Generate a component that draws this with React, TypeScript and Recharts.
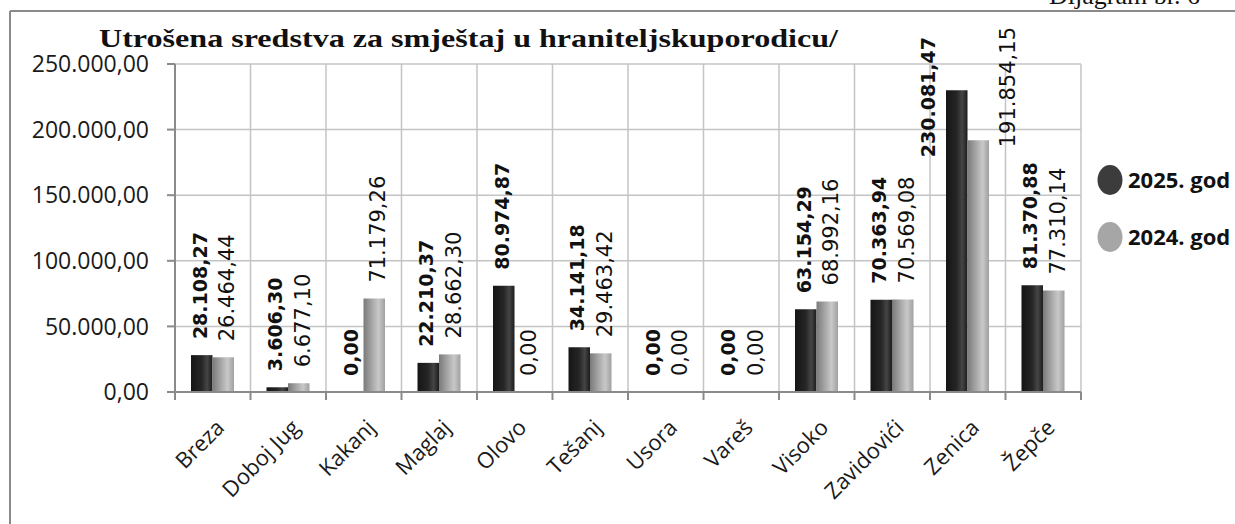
import React from 'react';
import { BarChart, Bar, XAxis, YAxis, CartesianGrid, LabelList } from 'recharts';

const municipalities = [
  'Breza', 'Doboj Jug', 'Kakanj', 'Maglaj', 'Olovo', 'Tešanj',
  'Usora', 'Vareš', 'Visoko', 'Zavidovići', 'Zenica', 'Žepče',
];
const spent2025 = [28108.27, 3606.3, 0, 22210.37, 80974.87, 34141.18, 0, 0, 63154.29, 70363.94, 230081.47, 81370.88];
const spent2024 = [26464.44, 6677.1, 71179.26, 28662.3, 0, 29463.42, 0, 0, 68992.16, 70569.08, 191854.15, 77310.14];
const yTicks = [0, 50000, 100000, 150000, 200000, 250000];
const seriesNames = ['2025. god', '2024. god'];
const title = 'Utrošena sredstva za smještaj u hraniteljskuporodicu/';

const data = municipalities.map((name, i) => ({
  name,
  y2025: spent2025[i],
  y2024: spent2024[i],
}));

// 28108.27 -> "28.108,27"
const fmt = (v: number) => {
  const [int, dec] = Math.abs(v).toFixed(2).split('.');
  return int.replace(/\B(?=(\d{3})+(?!\d))/g, '.') + ',' + dec;
};

const AXIS = '#8a8a8a';

const CategoryTick = (props: any) => {
  const { x, y, payload, index } = props;
  const half = payload?.offset || 37.75;
  const last = index === municipalities.length - 1;
  const tx = x + 13;
  const ty = y + 37;
  return (
    <g>
      <line x1={x - half} y1={y} x2={x - half} y2={y + 8} stroke={AXIS} strokeWidth={2} />
      {last && <line x1={x + half} y1={y} x2={x + half} y2={y + 8} stroke={AXIS} strokeWidth={2} />}
      <text
        x={tx}
        y={ty}
        transform={`rotate(-45, ${tx}, ${ty})`}
        textAnchor="end"
        fontFamily="Open Sans"
        fontSize={22}
        fill="#1a1a1a"
      >
        {payload.value}
      </text>
    </g>
  );
};

const makeLabel = (bold: boolean) => (props: any) => {
  const { x, y, width, value } = props;
  const bx = Number(x);
  const by = Number(y);
  const bw = Number(width);
  // labels that would run off the top are placed beside the bar
  const beside = by < 150;
  let cx: number;
  let cy: number;
  let anchor: 'start' | 'end';
  if (beside) {
    cx = bold ? bx - 18 : bx + bw + 19;
    cy = bold ? 37 : 27;
    anchor = 'end';
  } else {
    cx = bx + bw / 2 + (bold ? -2 : 4);
    cy = by - 16;
    anchor = 'start';
  }
  return (
    <text
      x={cx}
      y={cy}
      transform={`rotate(-90, ${cx}, ${cy})`}
      textAnchor={anchor}
      dominantBaseline="central"
      fontFamily="DejaVu Sans"
      fontWeight={bold ? 700 : 400}
      fontSize={bold ? 19 : 21}
      fill="#111"
    >
      {fmt(Number(value))}
    </text>
  );
};

export default function App() {
  return (
    <div style={{ position: 'absolute', left: 0, top: 0, width: 1235, height: 524, background: '#fff' }}>
      <BarChart
        width={1235}
        height={524}
        data={data}
        margin={{ top: 64, right: 154, bottom: 0, left: 0 }}
        barGap={0}
      >
        <defs>
          <linearGradient id="dark" x1="0" y1="0" x2="1" y2="0">
            <stop offset="0%" stopColor="#151515" />
            <stop offset="50%" stopColor="#262626" />
            <stop offset="75%" stopColor="#454545" />
            <stop offset="100%" stopColor="#1c1c1c" />
          </linearGradient>
          <linearGradient id="light" x1="0" y1="0" x2="1" y2="0">
            <stop offset="0%" stopColor="#7a7a7a" />
            <stop offset="30%" stopColor="#9c9c9c" />
            <stop offset="70%" stopColor="#c8c8c8" />
            <stop offset="100%" stopColor="#a0a0a0" />
          </linearGradient>
        </defs>
        <CartesianGrid
          stroke="#c4c4c4"
          strokeWidth={1.5}
          verticalCoordinatesGenerator={({ offset }: any) =>
            municipalities
              .map((_, i) => offset.left + (i * offset.width) / municipalities.length)
              .concat(offset.left + offset.width)
          }
        />
        <XAxis
          dataKey="name"
          interval={0}
          height={132}
          tickSize={0}
          tickMargin={0}
          tickLine={false}
          axisLine={{ stroke: AXIS, strokeWidth: 2 }}
          tick={<CategoryTick />}
        />
        <YAxis
          width={175}
          domain={[0, 250000]}
          ticks={yTicks}
          tickFormatter={fmt}
          tickSize={8}
          tickMargin={18}
          axisLine={{ stroke: AXIS, strokeWidth: 2 }}
          tickLine={{ stroke: AXIS, strokeWidth: 2 }}
          tick={{ fontFamily: 'Open Sans', fontSize: 23, fill: '#1a1a1a' }}
        />
        <Bar
          dataKey="y2025"
          name={seriesNames[0]}
          fill="url(#dark)"
          barSize={21.5}
          minPointSize={0.01}
          isAnimationActive={false}
        >
          <LabelList dataKey="y2025" content={makeLabel(true)} />
        </Bar>
        <Bar
          dataKey="y2024"
          name={seriesNames[1]}
          fill="url(#light)"
          barSize={21.5}
          minPointSize={0.01}
          isAnimationActive={false}
        >
          <LabelList dataKey="y2024" content={makeLabel(false)} />
        </Bar>
      </BarChart>

      <svg
        width={1235}
        height={524}
        style={{ position: 'absolute', left: 0, top: 0, pointerEvents: 'none' }}
      >
        <line x1={10} y1={11} x2={10} y2={524} stroke={AXIS} strokeWidth={2} />
        <line x1={10} y1={11} x2={1235} y2={11} stroke={AXIS} strokeWidth={2} />
        <text x={1049} y={4} fontFamily="Liberation Serif" fontSize={26} fill="#111">
          Dijagram br. 6
        </text>
        <text
          x={99}
          y={47}
          fontFamily="Liberation Serif"
          fontWeight={700}
          fontSize={26}
          textLength={739}
          lengthAdjust="spacingAndGlyphs"
          fill="#111"
        >
          {title}
        </text>
        <ellipse cx={1110} cy={180} rx={12.5} ry={15} fill="#3c3c3c" />
        <text x={1128} y={188} fontFamily="Open Sans" fontWeight={700} fontSize={22} fill="#111">
          {seriesNames[0]}
        </text>
        <ellipse cx={1110} cy={237} rx={12.5} ry={15} fill="#a6a6a6" />
        <text x={1128} y={245} fontFamily="Open Sans" fontWeight={700} fontSize={22} fill="#111">
          {seriesNames[1]}
        </text>
      </svg>
    </div>
  );
}
